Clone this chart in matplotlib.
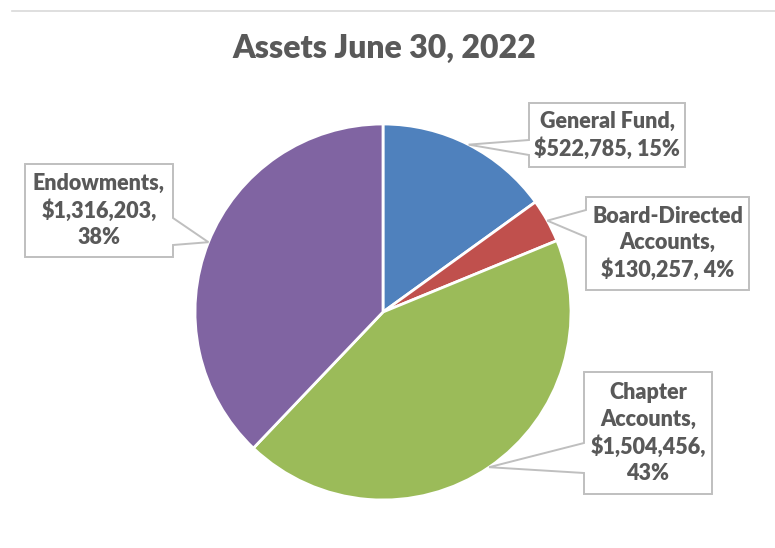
import matplotlib.pyplot as plt
from matplotlib.patches import Polygon
import numpy as np

# data
categories = ['General Fund', 'Board-Directed\nAccounts', 'Chapter\nAccounts', 'Endowments']
values = [522785, 130257, 1504456, 1316203]
colors = ['#4F81BD', '#C0504D', '#9BBB59', '#8064A2']

W, H = 775, 548
fig = plt.figure(figsize=(W / 100, H / 100), dpi=100)
ax = fig.add_axes([0, 0, 1, 1])

cx, cy, r = 383, H - 312, 188
wedges, _ = ax.pie(values, colors=colors, startangle=90, counterclock=False,
                   center=(cx, cy), radius=r, frame=True,
                   wedgeprops=dict(edgecolor='white', linewidth=2))
ax.set_xlim(0, W)
ax.set_ylim(0, H)
ax.set_aspect('equal')
ax.axis('off')

# top border line
ax.plot([12, W], [H - 11, H - 11], color='#D9D9D9', lw=1.2)

ax.text(384, H - 48, 'Assets June 30, 2022', ha='center', va='center',
        fontsize=23, fontweight='heavy', color='#595959', family='Lato')

total = float(sum(values))
# callout boxes: left, top, right, bottom (px from top), side of pointer, base y1, y2
boxes = [
    (529, 103, 685, 167, 'left', 140, 155),
    (586, 197, 749, 290, 'left', 210, 237),
    (584, 372, 712, 494, 'left', 443, 473),
    (25, 164, 173, 257, 'right', 218, 245),
]

cum = 0.0
for i, v in enumerate(values):
    mid = 90 - (cum + v / 2) / total * 360
    cum += v
    tx = cx + r * np.cos(np.radians(mid))
    ty = cy + r * np.sin(np.radians(mid))
    l, t, rr, b, side, b1, b2 = boxes[i]
    t, b, b1, b2 = H - t, H - b, H - b1, H - b2
    if side == 'left':
        pts = [(l, t), (rr, t), (rr, b), (l, b), (l, b2), (tx, ty), (l, b1)]
    else:
        pts = [(l, t), (rr, t), (rr, b1), (tx, ty), (rr, b2), (rr, b), (l, b)]
    ax.add_patch(Polygon(pts, closed=True, facecolor='white', edgecolor='#BFBFBF',
                         lw=1.4, zorder=5))
    pct = round(v / total * 100)
    name = categories[i]
    if i < 2:
        label = name + ',\n$%s, %d%%' % (format(v, ','), pct)
    else:
        label = name + ',\n$%s,\n%d%%' % (format(v, ','), pct)
    ax.text((l + rr) / 2, (t + b) / 2, label, ha='center', va='center',
            fontsize=15.5, fontweight='heavy', color='#595959', family='Lato',
            linespacing=1.3, zorder=6, parse_math=False)

fig.savefig('out.png', dpi=100)
